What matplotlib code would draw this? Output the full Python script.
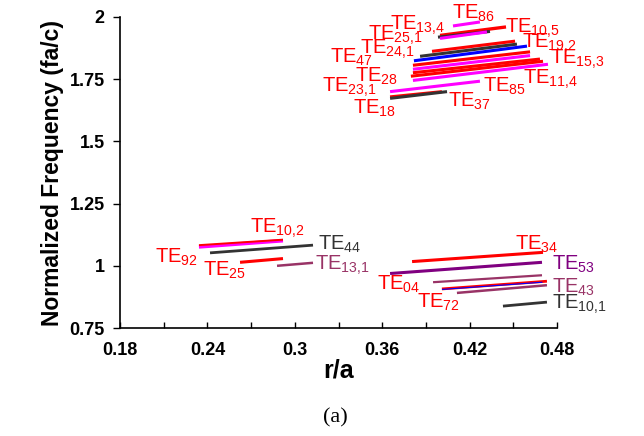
import matplotlib
matplotlib.use("Agg")
import matplotlib.pyplot as plt
from matplotlib.ticker import MultipleLocator

plt.rcParams['font.family'] = ['Liberation Sans', 'DejaVu Sans']
plt.rcParams['mathtext.fontset'] = 'custom'
plt.rcParams['mathtext.rm'] = 'Liberation Sans'
plt.rcParams['mathtext.it'] = 'Liberation Sans:italic'

RED = '#FF0000'
MAG = '#FF00FF'
BLK = '#333333'
BLU = '#0000FF'
PUR = '#800080'
MAU = '#993366'

# mode lines: r/a range and normalized frequency at each end
mode_r0 = [0.4086, 0.3997, 0.3983, 0.3997, 0.3942, 0.3860, 0.3818, 0.3811, 0.3811,
           0.3811, 0.3797, 0.3811, 0.3654, 0.3654, 0.3654,
           0.2342, 0.2342, 0.2418, 0.2624, 0.2878,
           0.3805, 0.3654, 0.3949, 0.4010, 0.4010, 0.4113, 0.4429]
mode_r1 = [0.4271, 0.4450, 0.4340, 0.4319, 0.4512, 0.4525, 0.4594, 0.4615, 0.4615,
           0.4683, 0.4704, 0.4738, 0.4271, 0.4010, 0.4045,
           0.2919, 0.2919, 0.3125, 0.2919, 0.3125,
           0.4704, 0.4697, 0.4697, 0.4731, 0.4700, 0.4731, 0.4731]
mode_f0 = [1.964, 1.926, 1.919, 1.914, 1.862, 1.842, 1.824, 1.806, 1.790,
           1.776, 1.762, 1.745, 1.700, 1.679, 1.673,
           1.076, 1.083, 1.052, 1.014, 1.000,
           1.017, 0.969, 0.934, 0.907, 0.905, 0.891, 0.838]
mode_f1 = [1.980, 1.960, 1.942, 1.940, 1.903, 1.891, 1.883, 1.860, 1.845,
           1.831, 1.822, 1.810, 1.742, 1.700, 1.700,
           1.101, 1.105, 1.083, 1.029, 1.012,
           1.054, 1.014, 0.962, 0.938, 0.934, 0.922, 0.854]
mode_colors = [MAG, RED, BLK, MAG, RED, BLK, BLU, RED, MAG,
               RED, RED, MAG, MAG, RED, BLK,
               MAG, RED, BLK, RED, MAU,
               RED, PUR, MAU, RED, BLU, MAU, BLK]
mode_widths = [2.2, 2.4, 2.2, 2.2, 2.2, 2.2, 2.2, 2.2, 2.2,
               2.2, 2.2, 2.2, 2.2, 2.2, 2.2,
               2.6, 1.4, 2.0, 2.2, 1.8,
               2.2, 2.2, 1.6, 2.0, 0.8, 1.8, 2.0]

# mode names and where they sit (baseline of "TE")
label_names = ['86', '10,5', '13,4', '25,1', '24,1', '47', '19,2', '15,3', '28', '11,4',
               '23,1', '85', '37', '18',
               '10,2', '92', '44', '25', '13,1', '34', '53', '04', '43', '72', '10,1']
label_r = [0.4079, 0.4443, 0.3653, 0.3502, 0.3448, 0.3242, 0.4560, 0.4752, 0.3413, 0.4567,
           0.3187, 0.4292, 0.4052, 0.3400,
           0.2692, 0.2040, 0.3159, 0.2370, 0.3139, 0.4512, 0.4766, 0.3564, 0.4766, 0.3839, 0.4766]
label_f = [1.992, 1.936, 1.948, 1.908, 1.852, 1.816, 1.876, 1.812, 1.740, 1.732,
           1.700, 1.700, 1.639, 1.611,
           1.135, 1.014, 1.063, 0.962, 0.986, 1.063, 0.986, 0.902, 0.890, 0.830, 0.826]
label_colors = [RED] * 14 + [RED, RED, BLK, RED, MAU, RED, PUR, RED, MAU, RED, BLK]

fig = plt.figure(figsize=(6.44, 4.36), dpi=100)
ax = fig.add_axes([120 / 644, 1 - 328 / 436, 437 / 644, 311 / 436])

for r0, r1, f0, f1, c, w in zip(mode_r0, mode_r1, mode_f0, mode_f1, mode_colors, mode_widths):
    ax.plot([r0, r1], [f0, f1], color=c, lw=w, solid_capstyle='butt')

for name, r, f, c in zip(label_names, label_r, label_f, label_colors):
    ax.text(r, f, 'TE$_{\\mathregular{%s}}$' % name.replace(',', '{,}'), color=c,
            fontsize=14.5, va='baseline', ha='left', clip_on=False)

ax.set_xlim(0.18, 0.48)
ax.set_ylim(0.75, 2.0)
ax.xaxis.set_major_locator(MultipleLocator(0.06))
ax.xaxis.set_minor_locator(MultipleLocator(0.03))
ax.yaxis.set_major_locator(MultipleLocator(0.25))
ax.xaxis.set_major_formatter(plt.FuncFormatter(lambda v, p: ('%.2f' % v).rstrip('0')))
ax.yaxis.set_major_formatter(plt.FuncFormatter(lambda v, p: ('%.2f' % v).rstrip('0').rstrip('.')))

ax.spines['top'].set_visible(False)
ax.spines['right'].set_visible(False)
for s in ('left', 'bottom'):
    ax.spines[s].set_linewidth(1.2)

ax.tick_params(axis='x', which='both', direction='in', length=4, width=1, pad=10)
ax.tick_params(axis='y', direction='out', length=5, width=1, pad=6)
for lab in ax.get_xticklabels() + ax.get_yticklabels():
    lab.set_fontweight('bold')
    lab.set_fontsize(13)

ax.set_xlabel('r/a', fontsize=18, fontweight='bold', labelpad=0)
ax.set_ylabel('Normalized Frequency (fa/c)', fontsize=16.5, fontweight='bold', labelpad=4)

fig.text(335 / 644, 1 - 418 / 436, '(a)', family='Liberation Serif', fontsize=16,
         ha='center', va='center')

fig.savefig('out.png', dpi=100)
